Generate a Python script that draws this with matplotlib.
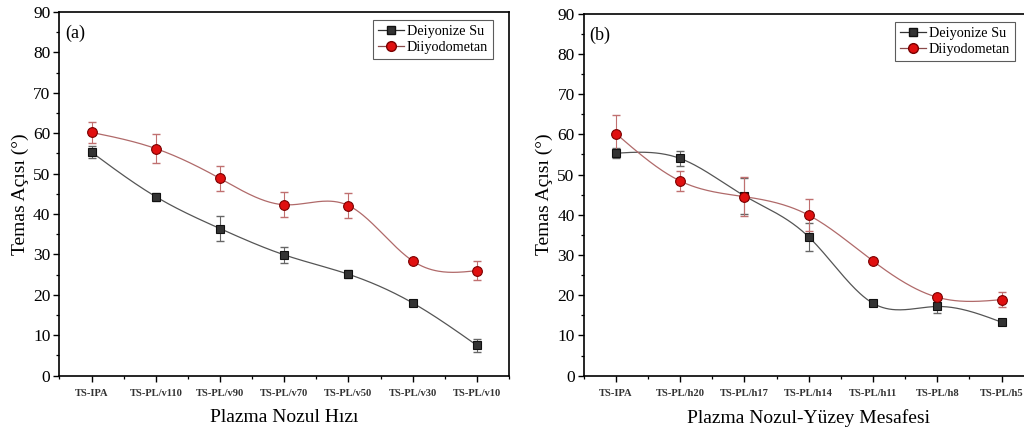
import numpy as np
import matplotlib
matplotlib.use("Agg")
import matplotlib.pyplot as plt
from matplotlib.ticker import MultipleLocator

plt.rcParams['font.family'] = ['Liberation Serif', 'DejaVu Serif']

# ---------------- Data ----------------
labels_a = ["TS-IPA", "TS-PL/v110", "TS-PL/v90", "TS-PL/v70", "TS-PL/v50", "TS-PL/v30", "TS-PL/v10"]
su_a = [55.3, 44.3, 36.4, 29.9, 25.1, 18.0, 7.5]
su_a_err = [1.5, 1.0, 3.0, 2.0, 1.0, 0.5, 1.6]
dim_a = [60.2, 56.2, 48.8, 42.3, 42.1, 28.4, 26.0]
dim_a_err = [2.6, 3.6, 3.0, 3.1, 3.1, 0.6, 2.3]

labels_b = ["TS-IPA", "TS-PL/h20", "TS-PL/h17", "TS-PL/h14", "TS-PL/h11", "TS-PL/h8", "TS-PL/h5"]
su_b = [55.3, 54.0, 44.7, 34.5, 18.0, 17.2, 13.3]
su_b_err = [1.2, 1.8, 4.5, 3.5, 0.6, 1.5, 0.6]
dim_b = [60.2, 48.4, 44.5, 39.9, 28.5, 19.5, 18.9]
dim_b_err = [4.6, 2.4, 4.9, 4.0, 0.6, 0.5, 1.8]


def spline(y, n=40):
    # natural cubic spline through evenly spaced points
    y = np.asarray(y, float)
    m = len(y)
    A = np.zeros((m, m))
    r = np.zeros(m)
    A[0, 0] = A[-1, -1] = 1
    for i in range(1, m - 1):
        A[i, i - 1], A[i, i], A[i, i + 1] = 1, 4, 1
        r[i] = 6 * (y[i - 1] - 2 * y[i] + y[i + 1])
    M = np.linalg.solve(A, r)
    xs, ys = [], []
    for i in range(m - 1):
        t = np.linspace(0, 1, n, endpoint=False)
        ys.append((1 - t) * y[i] + t * y[i + 1]
                  + ((1 - t) ** 3 - (1 - t)) * M[i] / 6 + (t ** 3 - t) * M[i + 1] / 6)
        xs.append(i + t)
    xs.append([m - 1])
    ys.append([y[-1]])
    return np.concatenate(xs), np.concatenate(ys)


def panel(ax, labels, su, su_err, dim, dim_err, tag, xlabel, leg_anchor):
    x = np.arange(len(labels))
    sx, sy = spline(su)
    ax.plot(sx, sy, color="#555555", lw=0.9, zorder=2)
    dx, dy = spline(dim)
    ax.plot(dx, dy, color="#b06a6a", lw=0.9, zorder=2)
    ax.errorbar(x, su, yerr=su_err, fmt="none", ecolor="#666666", elinewidth=0.8, capsize=3, zorder=3)
    ax.errorbar(x, dim, yerr=dim_err, fmt="none", ecolor="#c07070", elinewidth=0.8, capsize=3, zorder=3)
    ax.plot(x, su, "s", ms=6.2, mfc="#333333", mec="#111111", mew=0.8, zorder=4)
    ax.plot(x, dim, "o", ms=7, mfc="#e01010", mec="#7a0000", mew=0.8, zorder=5)
    # legend handles
    ax.plot([], [], "s-", color="#333333", ms=6.2, mfc="#333333", mec="#111111", lw=0.9, label="Deiyonize Su")
    ax.plot([], [], "o-", color="#8a4a4a", ms=7, mfc="#e01010", mec="#7a0000", lw=0.9, label="Diiyodometan")
    leg = ax.legend(loc="upper right", bbox_to_anchor=leg_anchor, fontsize=10.3, frameon=True,
                    fancybox=False, edgecolor="#333333", handlelength=1.8, borderpad=0.35,
                    labelspacing=0.2, handletextpad=0.2, borderaxespad=0)
    leg.get_frame().set_linewidth(0.8)

    ax.set_xlim(-0.5, len(labels) - 0.5)
    ax.set_ylim(0, 90)
    ax.set_xticks(x)
    ax.set_xticklabels(labels, fontsize=7.6, fontweight="bold", color="#333333")
    ax.xaxis.set_minor_locator(MultipleLocator(0.5))
    ax.yaxis.set_major_locator(MultipleLocator(10))
    ax.yaxis.set_minor_locator(MultipleLocator(5))
    ax.tick_params(axis="both", which="major", direction="out", length=4.5, width=1.0)
    ax.tick_params(axis="both", which="minor", direction="out", length=2.5, width=0.9)
    ax.tick_params(axis="y", labelsize=12.5, pad=2)
    ax.tick_params(axis="x", pad=5)
    for s in ax.spines.values():
        s.set_linewidth(1.2)
    ax.set_ylabel("Temas Açısı (°)", fontsize=14, labelpad=3)
    ax.set_xlabel(xlabel, fontsize=14, labelpad=8)
    ax.text(0.012, 0.965, tag, transform=ax.transAxes, fontsize=13, va="top", ha="left")


fig = plt.figure(figsize=(10.24, 4.3), dpi=100)
ax1 = fig.add_axes([0.0581, 0.1263, 0.439, 0.8458])
ax2 = fig.add_axes([0.570, 0.1263, 0.4395, 0.842])

panel(ax1, labels_a, su_a, su_a_err, dim_a, dim_a_err, "(a)", "Plazma Nozul Hızı", (0.964, 0.978))
panel(ax2, labels_b, su_b, su_b_err, dim_b, dim_b_err, "(b)", "Plazma Nozul-Yüzey Mesafesi", (0.958, 0.977))

fig.savefig("out.png", dpi=100)
